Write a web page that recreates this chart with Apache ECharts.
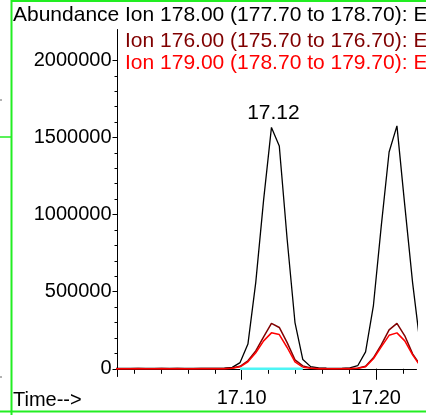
<!DOCTYPE html>
<html>
<head>
<meta charset="utf-8">
<script src="https://cdn.jsdelivr.net/npm/echarts@6/dist/echarts.min.js"></script>
<style>
html,body{margin:0;padding:0;background:#fff;}
#chart{width:426px;height:415px;}
</style>
</head>
<body>
<div id="chart"></div>
<script>
// ---- data ----
const times = [17.00530, 17.01114, 17.01699, 17.02283, 17.02867, 17.03452, 17.04036, 17.04620,
  17.05205, 17.05789, 17.06373, 17.06957, 17.07542, 17.08126, 17.08710, 17.09295,
  17.09879, 17.10463, 17.11047, 17.11632, 17.12216, 17.12800, 17.13385, 17.13969,
  17.14553, 17.15138, 17.15722, 17.16306, 17.16890, 17.17475, 17.18059, 17.18643,
  17.19228, 17.19812, 17.20396, 17.20981, 17.21565, 17.22149, 17.22733, 17.23318];
const ion178 = [2100, 1900, 2200, 2000, 1800, 2100, 2300, 2000, 1900, 2200, 2400, 2100, 2600, 3000, 4000, 9000,
  40000, 160000, 560000, 1095000, 1565000, 1445000, 840000, 300000,
  60000, 14000, 6000, 3500, 3000, 3200, 6000, 20000,
  110000, 410000, 925000, 1406000, 1575000, 1060000, 557000, 140000];
const ion176 = [800, 1000, 900, 1100, 1000, 900, 1200, 1000, 1100, 900, 1000, 1200, 1100, 1300, 1800, 4500,
  16000, 52000, 116000, 207000, 294000, 268000, 170000, 58000,
  19000, 5000, 2000, 1200, 1000, 1100, 1500, 3500,
  16000, 71000, 155000, 252000, 294000, 214000, 97000, 20000];
const ion179 = [500, 600, 400, 500, 600, 500, 400, 600, 500, 500, 600, 400, 500, 700, 1000, 3500,
  13000, 45000, 104000, 181000, 233000, 222000, 138000, 45000,
  10000, 3000, 1000, 800, 700, 800, 900, 3000,
  13000, 65000, 142000, 217000, 233000, 181000, 90000, 16000];
const legendLines = ['Ion 178.00 (177.70 to 178.70): E', 'Ion 176.00 (175.70 to 176.70): E', 'Ion 179.00 (178.70 to 179.70): E'];
const labeledPeakIndex = 20;            // apex labelled "17.12"
const integrationStart = 17.09879;      // cyan baseline under first peak
const integrationEnd = 17.14553;
const xLabelValues = [17.10, 17.20];
const xMinorTickValues = [17.02, 17.04, 17.06, 17.08, 17.10, 17.12, 17.14, 17.16, 17.18, 17.20, 17.22];
const yLabelValues = [0, 500000, 1000000, 1500000, 2000000];
const yMinorTickValues = [0, 100000, 200000, 300000, 400000, 500000, 600000, 700000, 800000, 900000, 1000000,
  1100000, 1200000, 1300000, 1400000, 1500000, 1600000, 1700000, 1800000, 1900000, 2000000];
const yAxisTitle = 'Abundance';
const xAxisTitle = 'Time-->';

// ---- chart ----
const FONT = '"Liberation Sans", Arial, sans-serif';
const X_MIN = 17.00746, X_MAX = 17.23022, Y_MIN = -50000, Y_MAX = 2200000;
const colors = ['#000000', '#800000', '#ff0000'];
const green = '#22ee22';

const chart = echarts.init(document.getElementById('chart'), null, {renderer: 'canvas'});
const pairs = arr => times.map((t, i) => [t, arr[i]]);

const baseX = {type: 'value', min: X_MIN, max: X_MAX, position: 'bottom', splitLine: {show: false}, scale: true};
const baseY = {type: 'value', min: Y_MIN, max: Y_MAX, position: 'left', splitLine: {show: false}, scale: true};

const option = {
  animation: false,
  backgroundColor: '#ffffff',
  grid: {left: 117.5, right: 9.5, top: 29.5, bottom: 38.5, containLabel: false},
  xAxis: [
    Object.assign({}, baseX, {
      axisLine: {show: true, lineStyle: {color: '#000', width: 1}},
      axisTick: {show: true, length: 5, inside: false, customValues: xMinorTickValues, lineStyle: {color: '#000', width: 1}},
      axisLabel: {show: false}
    }),
    Object.assign({}, baseX, {
      axisLine: {show: false},
      axisTick: {show: true, length: 11, inside: false, customValues: xLabelValues, lineStyle: {color: '#000', width: 1}},
      axisLabel: {show: true, customValues: xLabelValues, margin: 12, fontSize: 20, fontFamily: FONT, color: '#000',
        formatter: v => Number(v).toFixed(2)}
    })
  ],
  yAxis: [
    Object.assign({}, baseY, {
      axisLine: {show: true, lineStyle: {color: '#000', width: 1}},
      axisTick: {show: true, length: 3, inside: false, customValues: yMinorTickValues, lineStyle: {color: '#000', width: 1}},
      axisLabel: {show: false}
    }),
    Object.assign({}, baseY, {
      axisLine: {show: false},
      axisTick: {show: true, length: 5, inside: false, customValues: yLabelValues, lineStyle: {color: '#000', width: 1}},
      axisLabel: {show: true, customValues: yLabelValues, margin: 6, fontSize: 20, fontFamily: FONT, color: '#000',
        formatter: v => String(v)}
    })
  ],
  series: [
    {type: 'line', name: legendLines[0], data: pairs(ion178), showSymbol: false, silent: true,
      lineStyle: {color: colors[0], width: 1.3}, itemStyle: {color: colors[0]}},
    {type: 'line', name: legendLines[1], data: pairs(ion176), showSymbol: false, silent: true,
      lineStyle: {color: colors[1], width: 1.5}, itemStyle: {color: colors[1]}},
    {type: 'line', name: legendLines[2], data: pairs(ion179), showSymbol: false, silent: true,
      lineStyle: {color: colors[2], width: 1.5}, itemStyle: {color: colors[2]}},
    {type: 'line', data: [[integrationStart, 0], [integrationEnd, 0]], showSymbol: false, silent: true,
      lineStyle: {color: '#4df5f5', width: 2.5}},
    {type: 'scatter', data: [[times[labeledPeakIndex], ion178[labeledPeakIndex]]], symbolSize: 1, silent: true,
      itemStyle: {color: 'rgba(0,0,0,0)'},
      label: {show: true, position: 'top', distance: 3, offset: [2, 0], fontSize: 21, fontFamily: FONT,
        color: '#000000', opacity: 1, textBorderWidth: 0,
        formatter: p => p.value[0].toFixed(2)}}
  ],
  graphic: [
    {type: 'text', x: 13, y: 15, style: {text: yAxisTitle, font: '21px ' + FONT, fill: '#000', verticalAlign: 'middle', align: 'left'}},
    {type: 'text', x: 125, y: 15, style: {text: legendLines[0], font: '21px ' + FONT, fill: colors[0], verticalAlign: 'middle', align: 'left'}},
    {type: 'text', x: 125, y: 41, style: {text: legendLines[1], font: '21px ' + FONT, fill: colors[1], verticalAlign: 'middle', align: 'left'}},
    {type: 'text', x: 125, y: 63, style: {text: legendLines[2], font: '21px ' + FONT, fill: colors[2], verticalAlign: 'middle', align: 'left'}},
    {type: 'text', x: 13, y: 400, style: {text: xAxisTitle, font: '20px ' + FONT, fill: '#000', verticalAlign: 'middle', align: 'left'}},
    {type: 'line', shape: {x1: 11.5, y1: 0, x2: 11.5, y2: 415}, style: {stroke: green, lineWidth: 2}},
    {type: 'line', shape: {x1: 11.5, y1: 1, x2: 426, y2: 1}, style: {stroke: green, lineWidth: 2}},
    {type: 'line', shape: {x1: 0, y1: 411.5, x2: 426, y2: 411.5}, style: {stroke: green, lineWidth: 2}},
    {type: 'line', shape: {x1: 0, y1: 137, x2: 11, y2: 137}, style: {stroke: green, lineWidth: 1.5}},
    {type: 'line', shape: {x1: 0, y1: 100, x2: 2, y2: 100}, style: {stroke: '#666', lineWidth: 1}},
    {type: 'line', shape: {x1: 0, y1: 377, x2: 2, y2: 377}, style: {stroke: '#666', lineWidth: 1}}
  ]
};
chart.setOption(option);
</script>
</body>
</html>
